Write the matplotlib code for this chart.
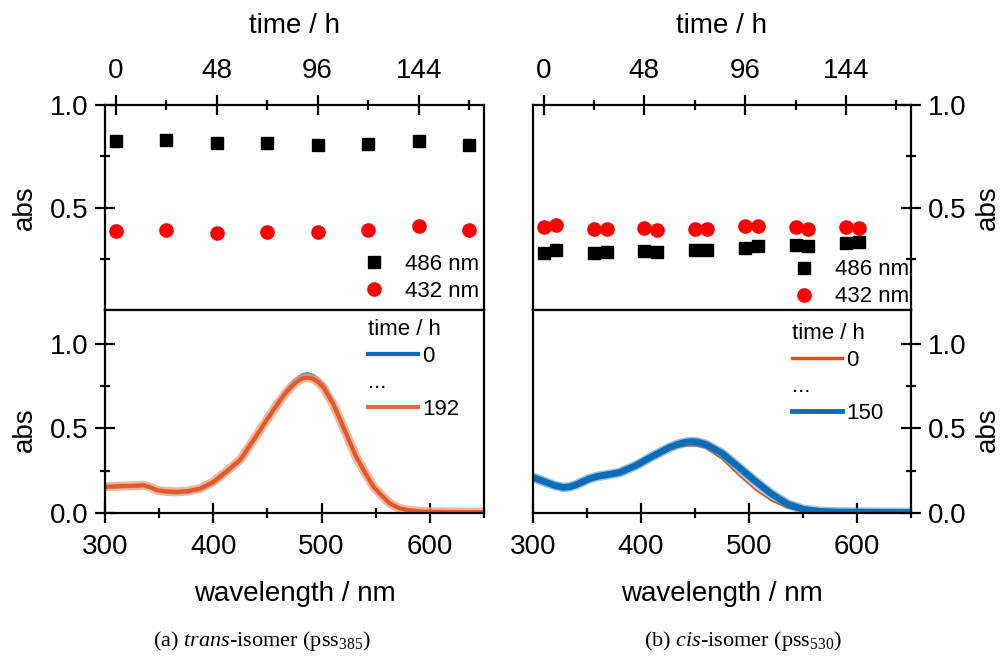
import matplotlib
matplotlib.use("Agg")
import matplotlib.pyplot as plt
from matplotlib.ticker import MultipleLocator, FixedLocator
from matplotlib.legend_handler import HandlerBase
from matplotlib.lines import Line2D
from matplotlib.text import Text

plt.rcParams["font.family"] = ["Liberation Sans", "DejaVu Sans"]
plt.rcParams["mathtext.fontset"] = "custom"
plt.rcParams["mathtext.rm"] = "Liberation Serif"
plt.rcParams["mathtext.it"] = "Liberation Serif:italic"

# ---------------- data ----------------
# (a) trans-isomer: absorbance at fixed wavelengths vs. time
time_a = [0, 24, 48, 72, 96, 120, 144, 168]
abs486_a = [0.825, 0.830, 0.814, 0.814, 0.806, 0.809, 0.825, 0.806]
abs432_a = [0.385, 0.390, 0.374, 0.380, 0.380, 0.390, 0.409, 0.390]

# (a) spectra, first (0 h) and last (192 h)
wl_a = [300, 310, 320, 330, 336, 342, 348, 356, 366, 377, 388, 400, 412, 425,
        437, 449, 460, 468, 475, 480, 483, 486, 489, 493, 497, 502, 511, 520,
        532, 540, 548, 556, 563, 571, 579, 594, 620, 650]
spec_a_0h = [0.150, 0.153, 0.155, 0.158, 0.160, 0.148, 0.130, 0.122, 0.118,
             0.122, 0.137, 0.175, 0.236, 0.307, 0.424, 0.548, 0.657, 0.730,
             0.782, 0.808, 0.818, 0.822, 0.820, 0.810, 0.790, 0.757, 0.652,
             0.515, 0.333, 0.240, 0.153, 0.098, 0.055, 0.028, 0.016, 0.007,
             0.005, 0.004]
spec_a_192h = [0.155, 0.158, 0.160, 0.162, 0.164, 0.152, 0.135, 0.128, 0.125,
               0.130, 0.145, 0.184, 0.245, 0.316, 0.430, 0.547, 0.650, 0.718,
               0.765, 0.788, 0.797, 0.800, 0.798, 0.790, 0.772, 0.740, 0.640,
               0.508, 0.331, 0.240, 0.155, 0.100, 0.057, 0.030, 0.018, 0.008,
               0.006, 0.005]

# (b) cis-isomer: absorbance at fixed wavelengths vs. time
time_b = [0, 6, 24, 30, 48, 54, 72, 78, 96, 102, 120, 126, 144, 150]
abs486_b = [0.277, 0.291, 0.277, 0.283, 0.288, 0.285, 0.291, 0.295, 0.304,
            0.311, 0.316, 0.312, 0.325, 0.332]
abs432_b = [0.406, 0.413, 0.393, 0.397, 0.401, 0.390, 0.397, 0.397, 0.409,
            0.409, 0.404, 0.393, 0.406, 0.401]

# (b) spectra, first (0 h) and last (150 h)
wl_b = [300, 312, 320, 328, 334, 340, 352, 360, 368, 380, 395, 410, 426, 434,
        441, 446, 452, 460, 475, 491, 506, 521, 536, 550, 565, 580, 600, 625,
        650]
spec_b_0h = [0.215, 0.186, 0.167, 0.156, 0.160, 0.175, 0.212, 0.230, 0.240,
             0.248, 0.285, 0.333, 0.378, 0.390, 0.396, 0.398, 0.396, 0.384,
             0.320, 0.222, 0.138, 0.072, 0.030, 0.011, 0.005, 0.004, 0.004,
             0.003, 0.003]
spec_b_150h = [0.210, 0.182, 0.163, 0.151, 0.155, 0.167, 0.202, 0.217, 0.225,
               0.239, 0.280, 0.333, 0.386, 0.406, 0.418, 0.422, 0.420, 0.406,
               0.353, 0.268, 0.187, 0.112, 0.052, 0.022, 0.010, 0.006, 0.005,
               0.004, 0.003]

# ---------------- styling ----------------
BLUE = "#0b6db5"
ORANGE_A = "#e25a28"
ORANGE_B = "#d9531e"
FS_TICK = 20
FS_LAB = 20
FS_LEG = 16
LW = 1.6

W, H = 1002, 656
fig = plt.figure(figsize=(W / 100, H / 100), dpi=100)


def frac(x0, y_top, x1, y_bot):
    return [x0 / W, 1 - y_bot / H, (x1 - x0) / W, (y_bot - y_top) / H]


axA_top = fig.add_axes(frac(105, 105, 484, 310))
axA_bot = fig.add_axes(frac(105, 310, 484, 513))
axB_top = fig.add_axes(frac(533, 105, 911, 310))
axB_bot = fig.add_axes(frac(533, 310, 911, 513))


def style_common(ax):
    for s in ax.spines.values():
        s.set_linewidth(LW)
    ax.tick_params(which="major", direction="inout", length=14, width=LW,
                   labelsize=FS_TICK, pad=5)
    ax.tick_params(which="minor", direction="inout", length=7, width=LW)


def set_y_side(ax, side):
    if side == "left":
        ax.tick_params(axis="y", which="both", left=True, right=False,
                       labelleft=True, labelright=False)
    else:
        ax.tick_params(axis="y", which="both", left=False, right=True,
                       labelleft=False, labelright=True)


def style_top(ax, side):
    style_common(ax)
    ax.set_xlim(-5, 175)
    ax.set_ylim(0, 1.0)
    ax.xaxis.set_major_locator(FixedLocator([0, 48, 96, 144]))
    ax.xaxis.set_minor_locator(FixedLocator([24, 72, 120, 168]))
    ax.yaxis.set_major_locator(FixedLocator([0.5, 1.0]))
    ax.yaxis.set_minor_locator(FixedLocator([0.25, 0.75]))
    ax.xaxis.tick_top()
    ax.tick_params(axis="x", which="both", top=True, bottom=False,
                   labeltop=True, labelbottom=False)
    ax.tick_params(axis="x", which="major", pad=8)
    ax.set_xlabel("time / h", fontsize=FS_LAB, labelpad=18)
    ax.xaxis.set_label_position("top")
    set_y_side(ax, side)


def style_bot(ax, side):
    style_common(ax)
    ax.set_xlim(300, 650)
    ax.set_ylim(0, 1.2)
    ax.xaxis.set_major_locator(MultipleLocator(100))
    ax.xaxis.set_minor_locator(FixedLocator([350, 450, 550, 650]))
    ax.yaxis.set_major_locator(FixedLocator([0.0, 0.5, 1.0]))
    ax.yaxis.set_minor_locator(FixedLocator([0.25, 0.75]))
    ax.tick_params(axis="x", which="both", top=False, bottom=True)
    ax.tick_params(axis="x", which="major", pad=8)
    ax.set_xlabel("wavelength / nm", fontsize=FS_LAB, labelpad=15)
    set_y_side(ax, side)


style_top(axA_top, "left")
style_bot(axA_bot, "left")
style_top(axB_top, "right")
style_bot(axB_bot, "right")

# ---------------- absorbance vs time ----------------
for ax, t, a486, a432 in [(axA_top, time_a, abs486_a, abs432_a),
                          (axB_top, time_b, abs486_b, abs432_b)]:
    ax.plot(t, a486, ls="none", marker="s", ms=9, color="black",
            label="486 nm", clip_on=False)
    ax.plot(t, a432, ls="none", marker="o", ms=9.5, color="#ff0000",
            mec="#ff0000", label="432 nm", clip_on=False)

for ax, anchor in [(axA_top, (0.681, 0.272)), (axB_top, (0.688, 0.247))]:
    ax.legend(loc="upper left", bbox_to_anchor=anchor, frameon=False,
              fontsize=FS_LEG, handlelength=1.0, handletextpad=0.9,
              labelspacing=0.27, borderpad=0, borderaxespad=0)

# ---------------- spectra ----------------
# (a): blue start curve, final curve with a soft band for the
# intermediate measurements
axA_bot.plot(wl_a, spec_a_0h, color=BLUE, lw=2.4)
axA_bot.plot(wl_a, spec_a_192h, color="#f2a488", lw=6.5, alpha=0.8)
axA_bot.plot(wl_a, spec_a_192h, color=ORANGE_A, lw=3.0)

# (b): thin orange start curve, thick blue final curve
axB_bot.plot(wl_b, spec_b_0h, color=ORANGE_B, lw=1.3)
axB_bot.plot(wl_b, spec_b_150h, color="#4a90cc", lw=7, alpha=0.55)
axB_bot.plot(wl_b, spec_b_150h, color=BLUE, lw=4.8)


class Gap:
    """Placeholder legend entry drawn as an ellipsis."""


class GapHandler(HandlerBase):
    def create_artists(self, legend, orig_handle, xdescent, ydescent,
                       width, height, fontsize, trans):
        t = Text(-xdescent, -ydescent + 0.35 * height, "...",
                 fontsize=fontsize, ha="left", va="center", transform=trans)
        return [t]


legA_handles = [Line2D([], [], color=BLUE, lw=3), Gap(),
                Line2D([], [], color="#e86b45", lw=3)]
legB_handles = [Line2D([], [], color=ORANGE_B, lw=2.5), Gap(),
                Line2D([], [], color=BLUE, lw=3.5)]

for ax, handles, labels, anchor in [
        (axA_bot, legA_handles, ["0", "", "192"], (0.694, 0.955)),
        (axB_bot, legB_handles, ["0", "", "150"], (0.685, 0.935))]:
    ax.legend(handles, labels, handler_map={Gap: GapHandler()},
              loc="upper left", bbox_to_anchor=anchor, frameon=False,
              fontsize=FS_LEG, title="time / h", title_fontsize=FS_LEG,
              alignment="left", handlelength=2.25, handletextpad=0.2,
              labelspacing=0.25, borderpad=0, borderaxespad=0)

# ---------------- y labels ----------------
for xp in (25, 988):
    for yp in (208, 430):
        fig.text(xp / W, 1 - yp / H, "abs", rotation=90, ha="center",
                 va="center", fontsize=FS_LAB)

# ---------------- captions ----------------
fig.text(262 / W, 1 - 641 / H,
         r"(a) $\mathit{trans}$-isomer (pss$_{\mathrm{385}}$)",
         ha="center", va="center", fontsize=16, family="Liberation Serif")
fig.text(743 / W, 1 - 641 / H,
         r"(b) $\mathit{cis}$-isomer (pss$_{\mathrm{530}}$)",
         ha="center", va="center", fontsize=16, family="Liberation Serif")

fig.savefig("out.png", dpi=100)
